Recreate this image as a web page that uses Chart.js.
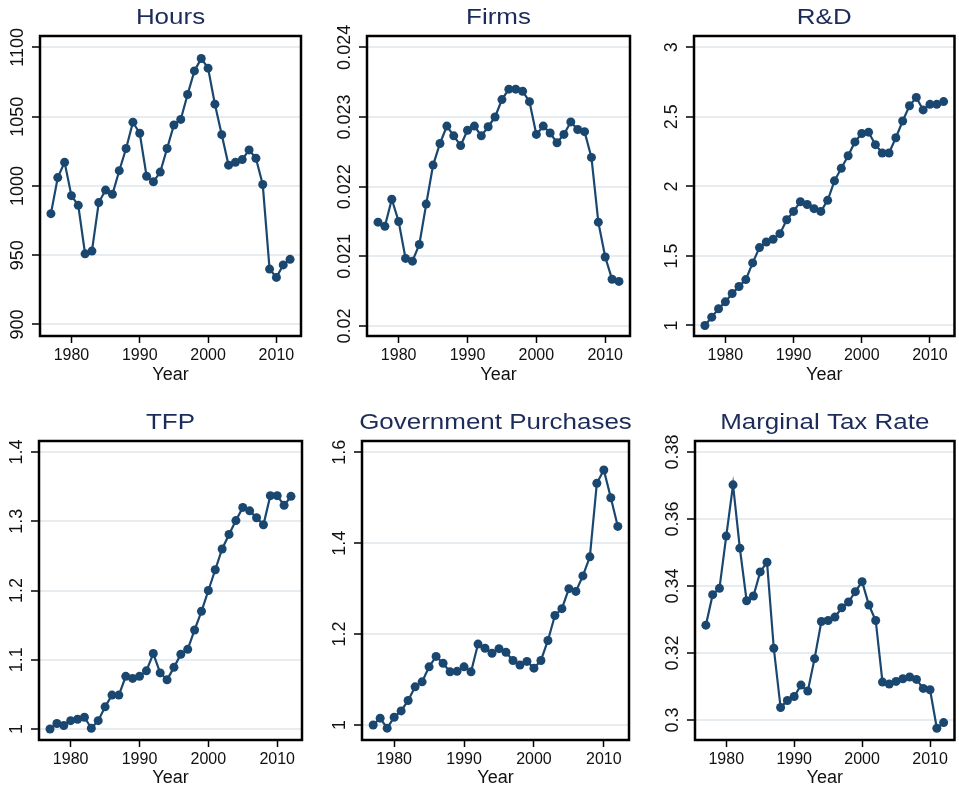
<!DOCTYPE html>
<html>
<head>
<meta charset="utf-8">
<title>Macro series</title>
<script src="https://cdn.jsdelivr.net/npm/chart.js@4.4.1/dist/chart.umd.min.js"></script>
<style>
  body { margin: 0; background: #fff; }
  #wrap { position: relative; width: 959px; height: 792px; overflow: hidden; }
  #wrap canvas { position: absolute; }
</style>
</head>
<body>
<div id="wrap"></div>
<script>
const years = [1977, 1978, 1979, 1980, 1981, 1982, 1983, 1984, 1985, 1986, 1987, 1988,
  1989, 1990, 1991, 1992, 1993, 1994, 1995, 1996, 1997, 1998, 1999, 2000,
  2001, 2002, 2003, 2004, 2005, 2006, 2007, 2008, 2009, 2010, 2011, 2012];

const hours = [980, 1006, 1017, 993, 986, 951, 953, 988, 997, 994, 1011, 1027,
  1046, 1038, 1007, 1003, 1010, 1027, 1044, 1048, 1066, 1083, 1092, 1085,
  1059, 1037, 1015, 1017, 1019, 1026, 1020, 1001, 940, 934, 943, 947];

const firms = [0.02149, 0.02143, 0.02182, 0.02150, 0.02097, 0.02093, 0.02117, 0.02175,
  0.02231, 0.02262, 0.02287, 0.02273, 0.02259, 0.02281, 0.02287, 0.02273,
  0.02286, 0.02300, 0.02325, 0.02340, 0.02340, 0.02337, 0.02322, 0.02275,
  0.02287, 0.02277, 0.02263, 0.02275, 0.02293, 0.02282, 0.02279, 0.02242,
  0.02149, 0.02099, 0.02067, 0.02064];

const rnd = [1.00, 1.06, 1.12, 1.17, 1.23, 1.28, 1.33, 1.45, 1.56, 1.60, 1.62, 1.66,
  1.76, 1.82, 1.89, 1.87, 1.84, 1.82, 1.90, 2.04, 2.13, 2.22, 2.32, 2.38,
  2.39, 2.30, 2.24, 2.24, 2.35, 2.47, 2.58, 2.64, 2.55, 2.59, 2.59, 2.61];

const tfp = [1.000, 1.008, 1.005, 1.012, 1.014, 1.017, 1.001, 1.012, 1.032, 1.049, 1.049, 1.076,
  1.073, 1.076, 1.084, 1.109, 1.081, 1.071, 1.089, 1.108, 1.115, 1.143, 1.170, 1.200,
  1.230, 1.260, 1.281, 1.301, 1.320, 1.315, 1.305, 1.295, 1.337, 1.337, 1.323, 1.336];

const govPurchases = [1.000, 1.015, 0.993, 1.017, 1.031, 1.054, 1.084, 1.095, 1.128, 1.151, 1.136, 1.117,
  1.118, 1.128, 1.117, 1.178, 1.169, 1.158, 1.168, 1.160, 1.142, 1.132, 1.140, 1.125,
  1.142, 1.186, 1.241, 1.256, 1.300, 1.294, 1.328, 1.370, 1.532, 1.561, 1.500, 1.437];

const taxRate = [0.3283, 0.3374, 0.3393, 0.3549, 0.3702, 0.3513, 0.3356, 0.3370, 0.3442, 0.3471, 0.3214, 0.3037,
  0.3058, 0.3070, 0.3104, 0.3086, 0.3183, 0.3294, 0.3297, 0.3307, 0.3335, 0.3352, 0.3383, 0.3413,
  0.3343, 0.3297, 0.3113, 0.3107, 0.3115, 0.3123, 0.3128, 0.3121, 0.3094, 0.3090, 0.2975, 0.2992];

const yearTicks = [1980, 1990, 2000, 2010];
const hoursTicks = [900, 950, 1000, 1050, 1100];
const firmsTicks = [0.02, 0.021, 0.022, 0.023, 0.024];
const rndTicks = [1, 1.5, 2, 2.5, 3];
const tfpTicks = [1, 1.1, 1.2, 1.3, 1.4];
const govTicks = [1, 1.2, 1.4, 1.6];
const taxTicks = [0.3, 0.32, 0.34, 0.36, 0.38];

const navy = "#1a476f";
const titleColor = "#1c2b5a";
const gridColor = "#e6ecef";
const textColor = "#111";
const fontFamily = '"Liberation Sans", Arial, Helvetica, sans-serif';
Chart.defaults.font.family = fontFamily;

// canvas cells (left, width) / (top, height), and the plot frame inside (absolute px)
const cols = [[0, 320], [320, 320], [640, 319]];
const rows = [[0, 389], [396, 396]];

const panels = [
  { title: "Hours", values: hours, ticks: hoursTicks, min: 891.7, max: 1108.2, col: 0, row: 0, frame: [40, 301, 36, 336] },
  { title: "Firms", values: firms, ticks: firmsTicks, min: 0.019856, max: 0.024163, col: 1, row: 0, frame: [367, 630, 36, 336] },
  { title: "R&D", values: rnd, ticks: rndTicks, min: 0.9244, max: 3.0814, col: 2, row: 0, frame: [694, 956, 36, 336] },
  { title: "TFP", values: tfp, ticks: tfpTicks, min: 0.9841, max: 1.4159, col: 0, row: 1, frame: [39, 302, 441, 740] },
  { title: "Government Purchases", values: govPurchases, ticks: govTicks, min: 0.967, max: 1.6249, col: 1, row: 1, frame: [362, 629, 441, 740] },
  { title: "Marginal Tax Rate", values: taxRate, ticks: taxTicks, min: 0.294, max: 0.3833, col: 2, row: 1, frame: [695, 957, 441, 740] },
];

function makeDecor(p) {
  return {
    id: "decor",
    beforeDatasetsDraw(chart) {
      const { ctx, chartArea: a } = chart;
      ctx.save();
      ctx.strokeStyle = "#000";
      ctx.lineWidth = 2.5;
      ctx.strokeRect(a.left, a.top, a.right - a.left, a.bottom - a.top);
      ctx.restore();
    },
    afterDraw(chart) {
      const { ctx, chartArea: a } = chart;
      const ys = chart.scales.y;
      // rotated y tick labels
      ctx.save();
      ctx.fillStyle = textColor;
      ctx.font = "18px " + fontFamily;
      ctx.textAlign = "center";
      ctx.textBaseline = "alphabetic";
      ys.ticks.forEach((t) => {
        const py = ys.getPixelForValue(t.value);
        ctx.save();
        ctx.translate(a.left - 17, py);
        ctx.rotate(-Math.PI / 2);
        ctx.fillText(String(t.value), 0, 0);
        ctx.restore();
      });
      ctx.restore();
      // panel title
      ctx.save();
      ctx.translate((a.left + a.right) / 2, a.top - 12);
      ctx.scale(1.18, 1);
      ctx.fillStyle = titleColor;
      ctx.font = "22px " + fontFamily;
      ctx.textAlign = "center";
      ctx.textBaseline = "alphabetic";
      ctx.fillText(p.title, 0, 0);
      ctx.restore();
    },
  };
}

const wrap = document.getElementById("wrap");

panels.forEach((p) => {
  const [cl, cw] = cols[p.col];
  const [ct, chh] = rows[p.row];
  const [fl, fr, ft, fb] = p.frame;
  const cv = document.createElement("canvas");
  cv.width = cw;
  cv.height = chh;
  cv.style.left = cl + "px";
  cv.style.top = ct + "px";
  cv.style.width = cw + "px";
  cv.style.height = chh + "px";
  wrap.appendChild(cv);

  new Chart(cv, {
    type: "line",
    data: {
      datasets: [
        {
          data: years.map((yr, i) => ({ x: yr, y: p.values[i] })),
          borderColor: navy,
          backgroundColor: navy,
          pointBackgroundColor: navy,
          pointBorderWidth: 0,
          pointRadius: 4.5,
          borderWidth: 2.2,
          tension: 0,
        },
      ],
    },
    options: {
      responsive: false,
      animation: false,
      devicePixelRatio: 1,
      layout: { padding: { left: 0, top: ft - ct, right: cl + cw - fr, bottom: 0 } },
      plugins: { legend: { display: false }, tooltip: { enabled: false } },
      scales: {
        x: {
          type: "linear",
          min: 1975.4,
          max: 2013.6,
          afterBuildTicks: (s) => { s.ticks = yearTicks.map((v) => ({ value: v })); },
          afterFit: (s) => { s.height = ct + chh - fb; },
          border: { display: false },
          grid: { drawOnChartArea: false, tickLength: 7, tickColor: "#000", tickWidth: 1.5 },
          ticks: { color: textColor, font: { size: 16 }, padding: 3, maxRotation: 0, callback: (v) => String(v) },
          title: { display: true, text: "Year", color: textColor, font: { size: 18 }, padding: { top: 0, bottom: 3 } },
        },
        y: {
          min: p.min,
          max: p.max,
          afterBuildTicks: (s) => { s.ticks = p.ticks.map((v) => ({ value: v })); },
          afterFit: (s) => { s.width = fl - cl; },
          border: { display: false },
          grid: { color: gridColor, lineWidth: 2, tickLength: 8, tickColor: "#000", tickWidth: 1.5 },
          ticks: { display: false },
        },
      },
    },
    plugins: [makeDecor(p)],
  });
});
</script>
</body>
</html>
